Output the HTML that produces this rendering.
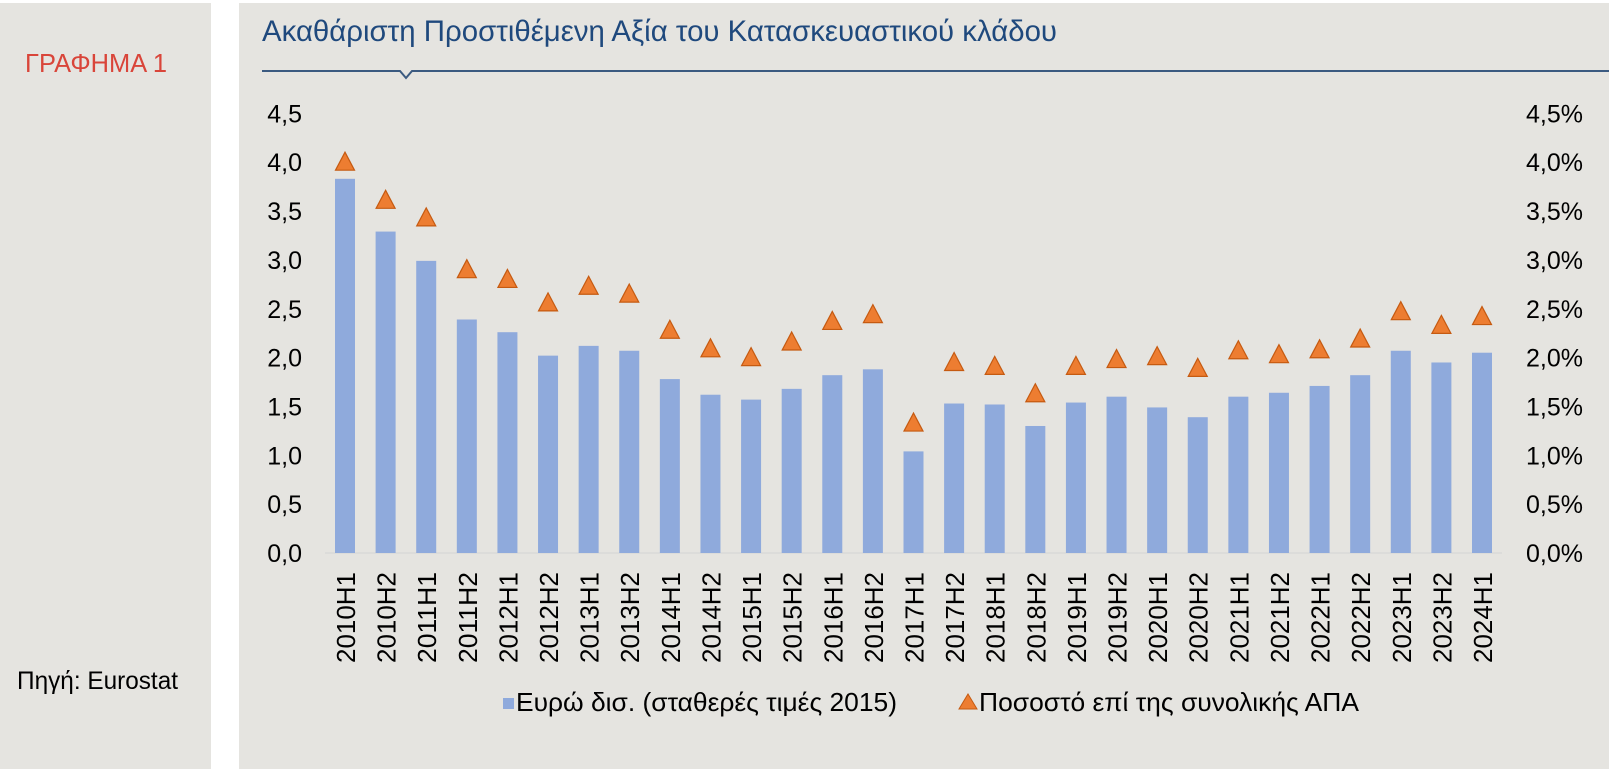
<!DOCTYPE html>
<html><head><meta charset="utf-8"><style>
html,body{margin:0;padding:0;background:#fff;}
body{width:1609px;height:769px;position:relative;overflow:hidden;font-family:"Liberation Sans",sans-serif;}
</style></head><body>
<svg width="1609" height="769" xmlns="http://www.w3.org/2000/svg" style="position:absolute;left:0;top:0" font-family="Liberation Sans, sans-serif">
<rect x="0" y="3" width="211" height="766" fill="#e5e4e0"/>
<rect x="239" y="3" width="1370" height="766" fill="#e5e4e0"/>
<text x="25" y="72" font-size="26" fill="#d9453a" textLength="142" lengthAdjust="spacingAndGlyphs">ΓΡΑΦΗΜΑ 1</text>
<text x="17" y="689" font-size="25" fill="#000" textLength="161" lengthAdjust="spacingAndGlyphs">Πηγή: Eurostat</text>
<text x="262" y="41" font-size="30" fill="#1f497d" textLength="795" lengthAdjust="spacingAndGlyphs">Ακαθάριστη Προστιθέμενη Αξία του Κατασκευαστικού κλάδου</text>
<polyline points="262,71 400,71 406,78 412,71 1609,71" fill="none" stroke="#3b5a80" stroke-width="2"/>
<g font-size="25" fill="#000" id="ticks"></g>
<line x1="325" y1="553" x2="1502" y2="553" stroke="#d4d4d4" stroke-width="1"/>
<g id="chart"></g>
<rect x="503" y="698" width="11" height="11" fill="#8faadc"/>
<text x="516" y="711" font-size="26" fill="#000" textLength="381" lengthAdjust="spacingAndGlyphs">Ευρώ δισ. (σταθερές τιμές 2015)</text>
<polygon points="968,694 977,709 959,709" fill="#ed7d31" stroke="#c55a11" stroke-width="1"/>
<text x="979" y="711" font-size="26" fill="#000" textLength="380" lengthAdjust="spacingAndGlyphs">Ποσοστό επί της συνολικής ΑΠΑ</text>
</svg>
<script>
var t='',lab=['0,0','0,5','1,0','1,5','2,0','2,5','3,0','3,5','4,0','4,5'];
for(var k=0;k<10;k++){var y=553-k*48.85+9;
t+='<text x="302" y="'+y+'" text-anchor="end">'+lab[k]+'</text>';
t+='<text x="1583" y="'+y+'" text-anchor="end">'+lab[k]+'%</text>';}
document.getElementById('ticks').innerHTML=t;
var labels=[];for(var y=2010;y<=2024;y++){labels.push(y+"H1");if(y<2024)labels.push(y+"H2");}
var bars=[3.83,3.29,2.99,2.39,2.26,2.02,2.12,2.07,1.78,1.62,1.57,1.68,1.82,1.88,1.04,1.53,1.52,1.30,1.54,1.60,1.49,1.39,1.60,1.64,1.71,1.82,2.07,1.95,2.05];
var tri=[4.00,3.61,3.43,2.90,2.80,2.56,2.73,2.65,2.28,2.09,2.00,2.16,2.37,2.44,1.33,1.95,1.91,1.63,1.91,1.98,2.01,1.89,2.07,2.03,2.08,2.19,2.47,2.33,2.42];
var g=document.getElementById('chart'),s='';
for(var i=0;i<29;i++){var cx=345+i*40.607;var yb=553-bars[i]*97.7;
s+='<rect x="'+(cx-10)+'" y="'+yb+'" width="20" height="'+(553-yb)+'" fill="#8faadc"/>';
var yt=553-tri[i]*97.7;
s+='<polygon points="'+cx+','+(yt-10)+' '+(cx+9.5)+','+(yt+8)+' '+(cx-9.5)+','+(yt+8)+'" fill="#ed7d31" stroke="#c55a11" stroke-width="1.2"/>';
s+='<text transform="translate('+(cx+10)+',572) rotate(-90)" text-anchor="end" font-size="26" fill="#000" textLength="91" lengthAdjust="spacingAndGlyphs">'+labels[i]+'</text>';}
g.innerHTML=s;
</script>
</body></html>
